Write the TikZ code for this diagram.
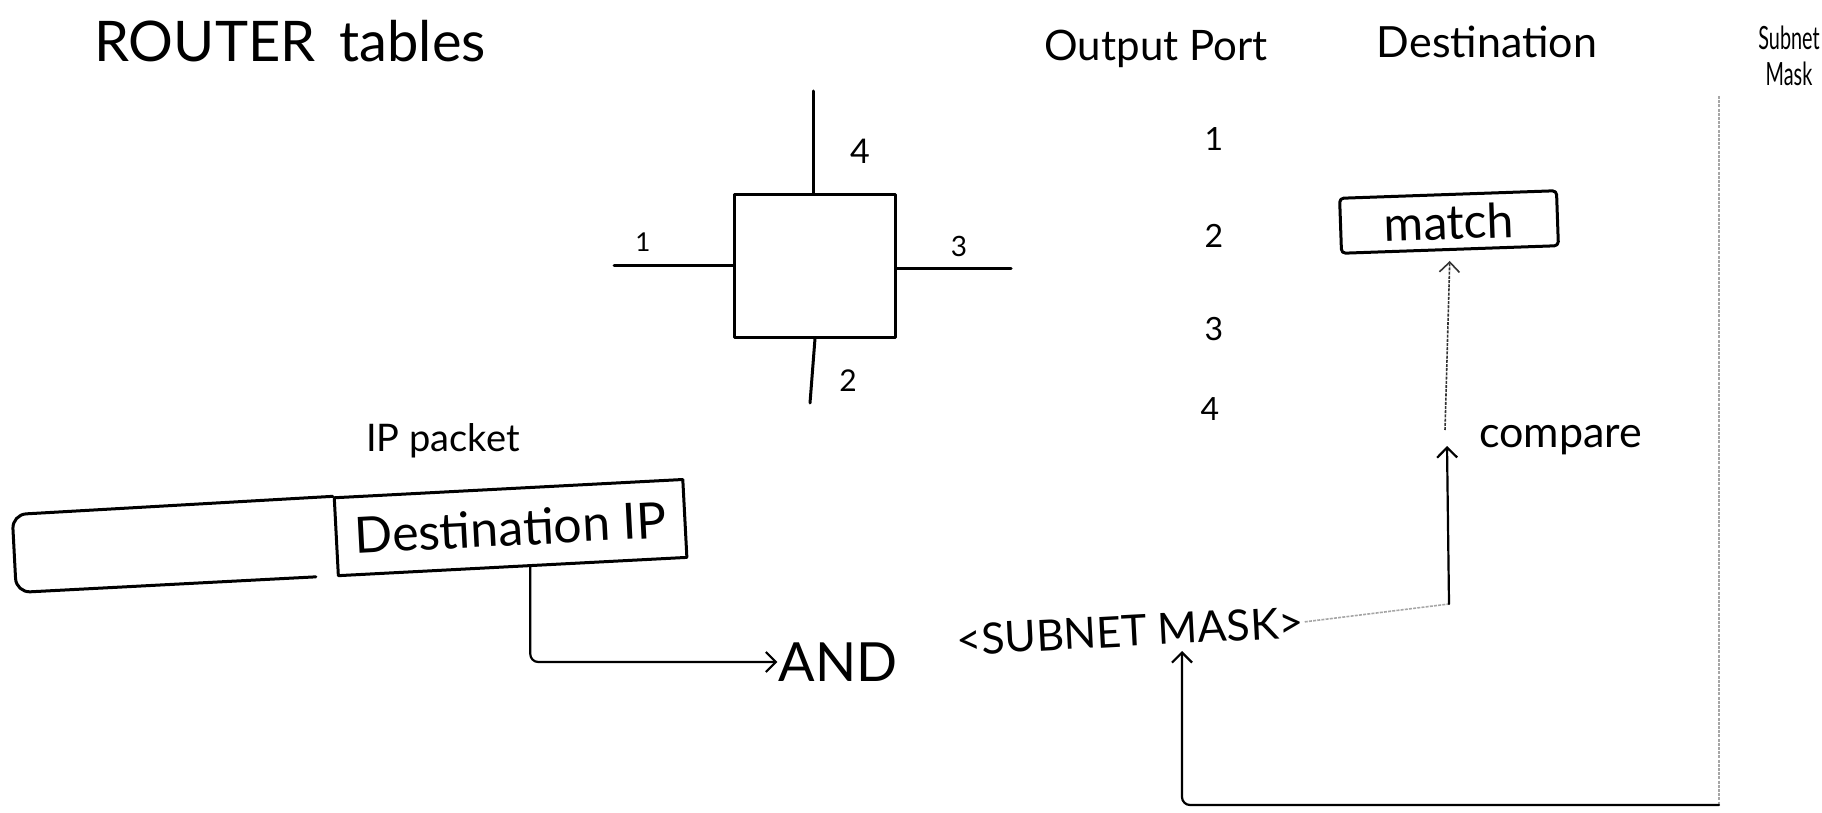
\documentclass[tikz,border=0pt]{standalone}
\usepackage{fontspec}
\setmainfont{Lato}
\usetikzlibrary{arrows.meta,calc}
\newcommand\fsz[1]{\fontsize{#1}{#1}\selectfont}
\begin{document}
\begin{tikzpicture}[x=1pt,y=-1pt,
  hand/.style={line width=3pt, line cap=round, line join=round},
  thinhand/.style={line width=2.2pt, line cap=round, line join=round},
  faint/.style={line width=1.6pt, gray!70, dash pattern=on 3pt off 1.2pt},
  chev/.style={-{Straight Barb[length=10pt,width=20pt]}},
  lbl/.style={inner sep=1pt}]
\useasboundingbox (0,0) rectangle (1822,813);

% title
\node[lbl, anchor=base west, font=\fsz{56}] (title) at (93,62) {ROUTER\hspace{24pt}tables};

% table headers
\node[lbl, font=\fsz{42}] (outport) at (1156,49) {Output Port};
\node[lbl, font=\fsz{43}] (dest) at (1487,42) {Destination};
\node[inner sep=0pt, font=\fsz{32}, align=center] (smask) at (1789,56)
  {\scalebox{0.62}[1]{Subnet}\\[4pt]\scalebox{0.62}[1]{Mask}};

% port numbers
\node[lbl, font=\fsz{32}] (n1) at (1214,139) {1};
\node[lbl, font=\fsz{32}] (n2) at (1214,236) {2};
\node[lbl, font=\fsz{32}] (n3) at (1214,329) {3};
\node[lbl, font=\fsz{32}] (n4) at (1210,409) {4};

% router
\node[draw, hand, minimum width=161pt, minimum height=142pt, inner sep=0pt] (router) at (815,266) {};
\coordinate (p4) at (813,91);
\draw[hand] (p4) -- (p4 |- router.north);
\node[lbl, font=\fsz{34}] (l4) at (860,151) {4};
\coordinate (p1) at (614,265);
\draw[hand] (p1) -- (p1 -| router.west);
\node[lbl, font=\fsz{26}] (l1) at (643,242) {1};
\coordinate (p3) at (1011,268);
\draw[hand] (p3 -| router.east) -- (p3);
\node[lbl, font=\fsz{28}] (l3) at (959,246) {3};
\coordinate (p2) at (810,403);
\draw[hand] (router.south) -- (p2);
\node[lbl, font=\fsz{30}] (l2) at (848,381) {2};

% IP packet
\node[lbl, font=\fsz{38}] (ipp) at (443,441) {IP packet};
\begin{scope}[rotate around={3:(350,540)}]
  \node[draw, hand, transform shape, minimum width=349pt, minimum height=78pt,
        inner sep=0pt, font=\fsz{50}] (destip) at (511,536) {Destination IP};
  \draw[hand, rounded corners=14pt] (314,575) -- (14,575) -- (14,497) -- (destip.north west);
\end{scope}

% AND <SUBNET MASK>
\node[lbl, font=\fsz{54}] (and) at (838,662) {AND};
\node[lbl, font=\fsz{43}, rotate=3] (mask) at (1130,631) {<SUBNET MASK>};

\draw[thinhand, chev, rounded corners=8pt]
  ($(destip.south)!0.1!(destip.south east)$) |- (and.west);

% match / compare
\node[draw, hand, rounded corners=4pt, rotate=2, minimum width=217pt, minimum height=55pt,
      font=\fsz{48}] (match) at (1449,222) {match};
\coordinate (corner) at (1449,604);
\coordinate (cmptip) at (1447,446);
\coordinate (cmptop) at (1445,430);
\draw[faint] (mask.east) -- (corner);
\draw[thinhand, chev] (corner) -- (cmptip);
\node[lbl, font=\fsz{43}, anchor=west] (cmp) at (1478,440) {compare};
\draw[faint, chev, black!80, shorten >=10pt] (cmptop) -- (match.south);

% subnet mask loop
\coordinate (smtop) at (1719,96);
\coordinate (smbot) at (1719,805);
\coordinate (maskin) at (1182,651);
\draw[faint] (smtop) -- (smbot);
\draw[thinhand, chev, rounded corners=8pt] (smbot) -| (maskin);
\end{tikzpicture}
\end{document}
